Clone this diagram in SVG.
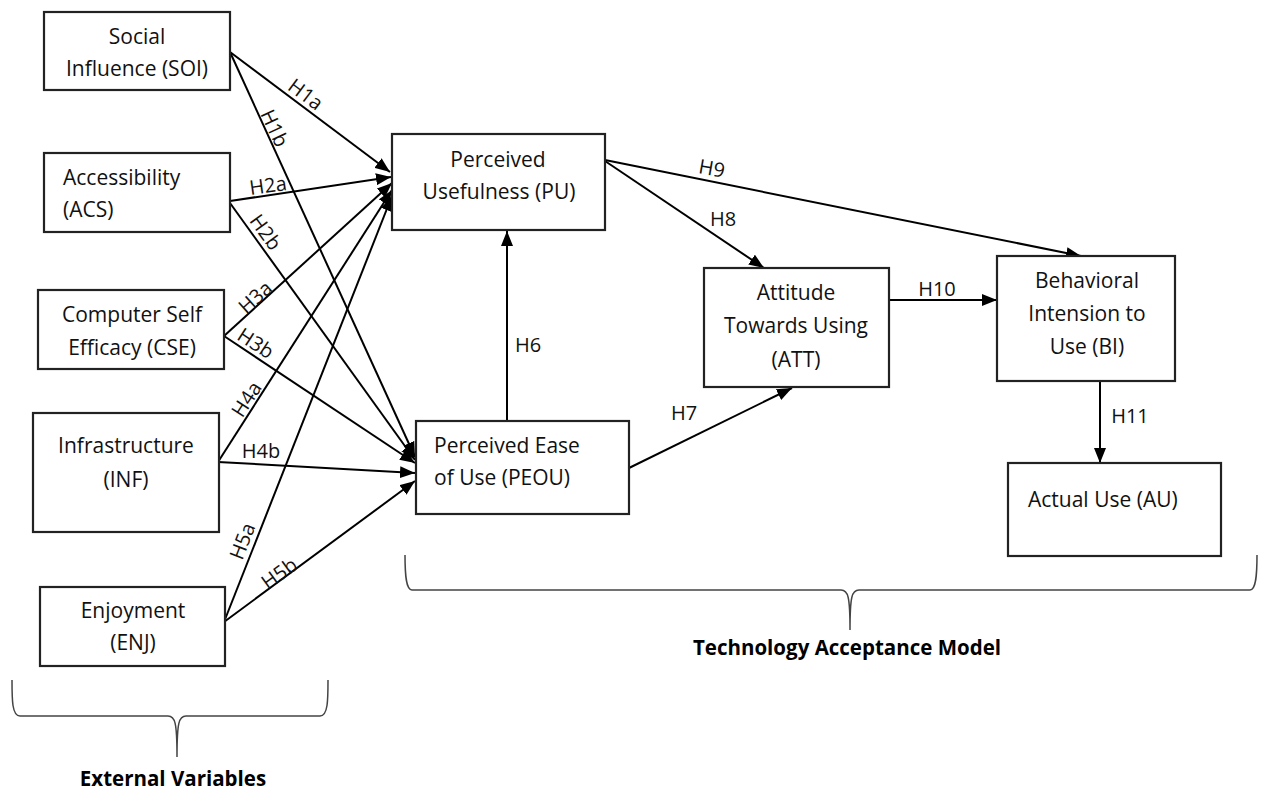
<svg xmlns="http://www.w3.org/2000/svg" width="1265" height="791" viewBox="0 0 1265 791">
<style>
.box{fill:#fff;stroke:#222;stroke-width:2.2}
.t{font-family:"Open Sans","Liberation Sans",sans-serif;font-size:21px;fill:#111}
.c{text-anchor:middle}
.lbl{font-family:"Open Sans","Liberation Sans",sans-serif;font-size:20px;fill:#111;text-anchor:middle;dominant-baseline:central}
.e{stroke:#000;stroke-width:2;fill:none;marker-end:url(#ah)}
.br{stroke:#444;stroke-width:1.5;fill:none}
.b{font-family:"Open Sans","Liberation Sans",sans-serif;font-size:20.5px;font-weight:bold;fill:#000;text-anchor:middle}
</style>
<defs>
<marker id="ah" markerUnits="userSpaceOnUse" markerWidth="16" markerHeight="12" refX="15" refY="6" orient="auto">
<path d="M0,0 L15,6 L0,12 z" fill="#000"/>
</marker>
</defs>
<rect width="1265" height="791" fill="#fff"/>
<g id="connectors">
<line class="e" x1="230" y1="52" x2="390" y2="172"/>
<line class="e" x1="230" y1="52" x2="415" y2="457"/>
<line class="e" x1="230" y1="201" x2="391" y2="177"/>
<line class="e" x1="230" y1="203" x2="415" y2="460"/>
<line class="e" x1="224" y1="336" x2="392" y2="183"/>
<line class="e" x1="224" y1="336" x2="415" y2="463"/>
<line class="e" x1="218" y1="462" x2="392" y2="190"/>
<line class="e" x1="218" y1="462" x2="415" y2="473"/>
<line class="e" x1="224" y1="622" x2="392" y2="196"/>
<line class="e" x1="224" y1="622" x2="415" y2="481"/>
<line class="e" x1="507" y1="421" x2="507" y2="231"/>
<line class="e" x1="629" y1="468" x2="792" y2="388"/>
<line class="e" x1="605" y1="161" x2="764" y2="268"/>
<line class="e" x1="605" y1="160" x2="1081" y2="256"/>
<line class="e" x1="889" y1="300" x2="997" y2="300"/>
<line class="e" x1="1100" y1="381" x2="1100" y2="463"/>
</g>
<g id="labels">
<text class="lbl" transform="translate(306,94) rotate(37)">H1a</text>
<text class="lbl" transform="translate(275,128) rotate(65)">H1b</text>
<text class="lbl" transform="translate(268,185) rotate(-8)">H2a</text>
<text class="lbl" transform="translate(266,232) rotate(54)">H2b</text>
<text class="lbl" transform="translate(255,297) rotate(-42)">H3a</text>
<text class="lbl" transform="translate(256,343) rotate(33)">H3b</text>
<text class="lbl" transform="translate(246,399) rotate(-57)">H4a</text>
<text class="lbl" transform="translate(261,450)">H4b</text>
<text class="lbl" transform="translate(242,541) rotate(-69)">H5a</text>
<text class="lbl" transform="translate(279,573) rotate(-36)">H5b</text>
<text class="lbl" transform="translate(528,344)">H6</text>
<text class="lbl" transform="translate(684,412)">H7</text>
<text class="lbl" transform="translate(723,218)">H8</text>
<text class="lbl" transform="translate(712,168) rotate(10)">H9</text>
<text class="lbl" transform="translate(937,288)">H10</text>
<text class="lbl" transform="translate(1130,415)">H11</text>
</g>
<g id="SOI">
<rect class="box" x="44" y="12" width="186" height="78"/>
<text class="t c" x="137" y="44">Social</text>
<text class="t c" x="137" y="76">Influence (SOI)</text>
</g>
<g id="ACS">
<rect class="box" x="44" y="153" width="186" height="79"/>
<text class="t" x="63" y="185">Accessibility</text>
<text class="t" x="63" y="217">(ACS)</text>
</g>
<g id="CSE">
<rect class="box" x="38" y="290" width="186" height="79"/>
<text class="t c" x="132" y="322">Computer Self</text>
<text class="t c" x="132" y="355">Efficacy (CSE)</text>
</g>
<g id="INF">
<rect class="box" x="33" y="413" width="186" height="119"/>
<text class="t c" x="126" y="453">Infrastructure</text>
<text class="t c" x="126" y="487">(INF)</text>
</g>
<g id="ENJ">
<rect class="box" x="40" y="587" width="185" height="79"/>
<text class="t c" x="133" y="618">Enjoyment</text>
<text class="t c" x="133" y="650">(ENJ)</text>
</g>
<g id="PU">
<rect class="box" x="392" y="134" width="213" height="96"/>
<text class="t c" x="498" y="167">Perceived</text>
<text class="t c" x="499" y="199">Usefulness (PU)</text>
</g>
<g id="PEOU">
<rect class="box" x="416" y="421" width="213" height="93"/>
<text class="t" x="434" y="453">Perceived Ease</text>
<text class="t" x="434" y="485">of Use (PEOU)</text>
</g>
<g id="ATT">
<rect class="box" x="704" y="268" width="185" height="119"/>
<text class="t c" x="796" y="300">Attitude</text>
<text class="t c" x="796" y="333">Towards Using</text>
<text class="t c" x="796" y="367">(ATT)</text>
</g>
<g id="BI">
<rect class="box" x="997" y="256" width="178" height="125"/>
<text class="t c" x="1087" y="288">Behavioral</text>
<text class="t c" x="1087" y="321">Intension to</text>
<text class="t c" x="1087" y="354">Use (BI)</text>
</g>
<g id="AU">
<rect class="box" x="1008" y="463" width="213" height="93"/>
<text class="t" x="1028" y="507">Actual Use (AU)</text>
</g>
<g id="brace-ext">
<path class="br" d="M12,680 C12,700 12,716 20,716 L168,716 C175,716 177,722 177,757 C177,722 179,716 186,716 L320,716 C328,716 328,700 328,680"/>
<text class="b" x="173" y="786">External Variables</text>
</g>
<g id="brace-tam">
<path class="br" d="M405,555 C405,575 406,590 412,590 L841,590 C848,590 850,596 850,630 C850,596 852,590 859,590 L1250,590 C1256,590 1257,575 1257,555"/>
<text class="b" x="847" y="655">Technology Acceptance Model</text>
</g>
</svg>
